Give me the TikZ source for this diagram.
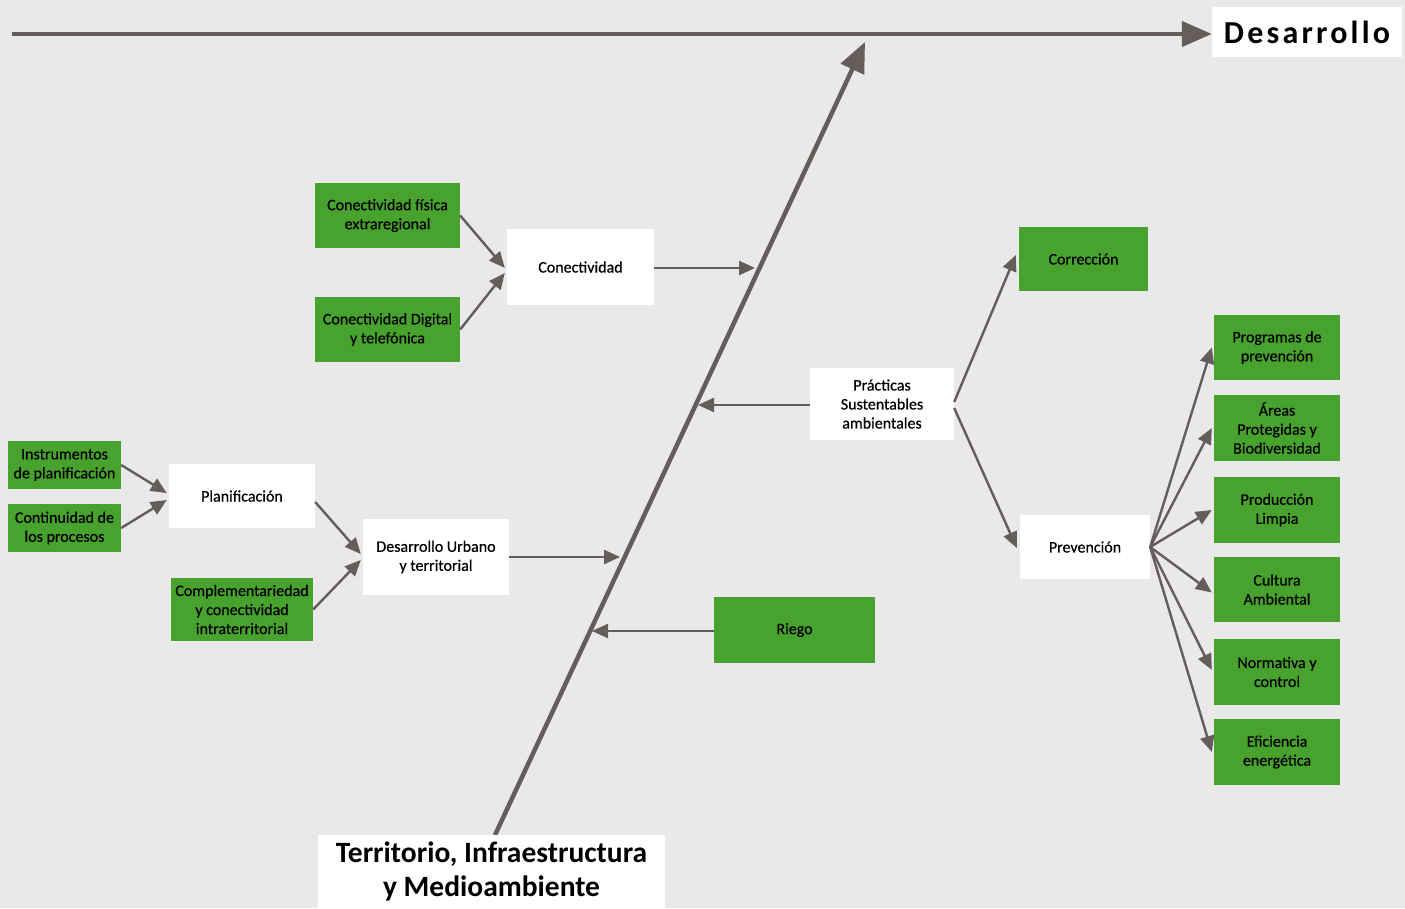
\documentclass[tikz,border=0pt]{standalone}
\usepackage{fontspec}
\setmainfont{Carlito}
\newfontfamily\medfont{Carlito}[FakeBold=0.6]
\usetikzlibrary{arrows.meta}
\definecolor{bg}{HTML}{E8E9E8}
\definecolor{gr}{HTML}{48A22E}
\definecolor{ac}{HTML}{655C5C}
\newcommand{\fsm}{\medfont\fontsize{16}{19}\selectfont}
\tikzset{
  box/.style={inner sep=0pt, align=center, font=\fsm, text=black},
  gbox/.style={box, fill=gr},
  wbox/.style={box, fill=white},
  arr/.style={draw=ac, line width=2.4pt, -{Triangle[length=16pt,width=14pt]}},
  bigarr/.style={draw=ac, line width=4.5pt, -{Triangle[length=30pt,width=25pt]}},
}
\begin{document}
\begin{tikzpicture}[x=1pt,y=-1pt]
\fill[bg] (0,0) rectangle (1405,908);
\useasboundingbox (0,0) rectangle (1405,908);

% spine
\coordinate (spS) at (495,835);
\coordinate (spE) at (865,42);
\draw[bigarr] (spS) -- (spE);

% title boxes
\node[wbox, minimum width=190, minimum height=50, font=\fontsize{32}{36}\bfseries\addfontfeatures{LetterSpace=10}] (desa) at (1307,32) {Desarrollo};
\node[wbox, minimum width=347, minimum height=73, font=\fontsize{29.5}{34}\bfseries\selectfont] (terr) at (491.5,871.5) {Territorio, Infraestructura\\y Medioambiente};

\coordinate (start) at (12,34);
\draw[bigarr] (start) -- ([yshift=-2]desa.west);

% Conectividad branch
\node[wbox, minimum width=147, minimum height=76] (con) at (580.5,267) {Conectividad};
\node[gbox, minimum width=145, minimum height=65] (cf) at (387.5,215.5) {Conectividad física\\extraregional};
\node[gbox, minimum width=145, minimum height=65] (cd) at (387.5,329.5) {Conectividad Digital\\y telefónica};
\draw[arr] (cf.east) -- ([shift={(-2,1)}]con.west);
\draw[arr] (cd.east) -- ([shift={(-2,6)}]con.west);
\coordinate (t1) at (755,268);
\draw[arr] ([yshift=-1]con.east) -- (t1);

% Planificacion branch
\node[wbox, minimum width=146, minimum height=64] (plan) at (242,496) {Planificación};
\node[gbox, minimum width=113, minimum height=48] (inst) at (64.5,465) {Instrumentos\\de planificación};
\node[gbox, minimum width=113, minimum height=48] (cont) at (64.5,528) {Continuidad de\\los procesos};
\draw[arr] (inst.east) -- ([shift={(-2,-3)}]plan.west);
\draw[arr] (cont.east) -- ([shift={(-2,4)}]plan.west);
\node[wbox, minimum width=146, minimum height=76] (du) at (436,557) {Desarrollo Urbano\\y territorial};
\node[gbox, minimum width=142, minimum height=63] (comp) at (242,609.5) {Complementariedad\\y conectividad\\intraterritorial};
\draw[arr] ([yshift=-6]plan.east) -- ([shift={(-2,-3)}]du.west);
\draw[arr] (comp.east) -- ([shift={(-2,3)}]du.west);
\coordinate (t3) at (620,557);
\draw[arr] (du.east) -- (t3);

% Practicas branch
\node[wbox, minimum width=144, minimum height=72] (prac) at (882,404) {Prácticas\\Sustentables\\ambientales};
\coordinate (t2) at (698,405);
\draw[arr] ([yshift=-1]prac.west) -- (t2);
\node[gbox, minimum width=129, minimum height=64] (corr) at (1083.5,259) {Corrección};
\node[wbox, minimum width=130, minimum height=64] (prev) at (1085,547) {Prevención};
\draw[arr] ([yshift=2]prac.east) -- ([shift={(-3,-4)}]corr.west);
\draw[arr] ([yshift=-4]prac.east) -- ([shift={(-3,1)}]prev.west);

% Riego
\node[gbox, minimum width=161, minimum height=66] (riego) at (794.5,630) {Riego};
\coordinate (t4) at (592,631);
\draw[arr] ([yshift=-1]riego.west) -- (t4);

% Prevencion children
\node[gbox, minimum width=126, minimum height=65] (prog) at (1277,347.5) {Programas de\\prevención};
\node[gbox, minimum width=126, minimum height=66] (areas) at (1277,428) {Áreas\\Protegidas y\\Biodiversidad};
\node[gbox, minimum width=126, minimum height=66] (prod) at (1277,510) {Producción\\Limpia};
\node[gbox, minimum width=126, minimum height=65] (cult) at (1277,589.5) {Cultura\\Ambiental};
\node[gbox, minimum width=126, minimum height=66] (norm) at (1277,672) {Normativa y\\control};
\node[gbox, minimum width=126, minimum height=66] (efic) at (1277,752) {Eficiencia\\energética};
\foreach \n/\dy in {prog/0, areas/0, prod/0, cult/3, norm/-2, efic/0} {
  \draw[arr] (prev.east) -- ([shift={(-2,\dy)}]\n.west);
}
\end{tikzpicture}
\end{document}
